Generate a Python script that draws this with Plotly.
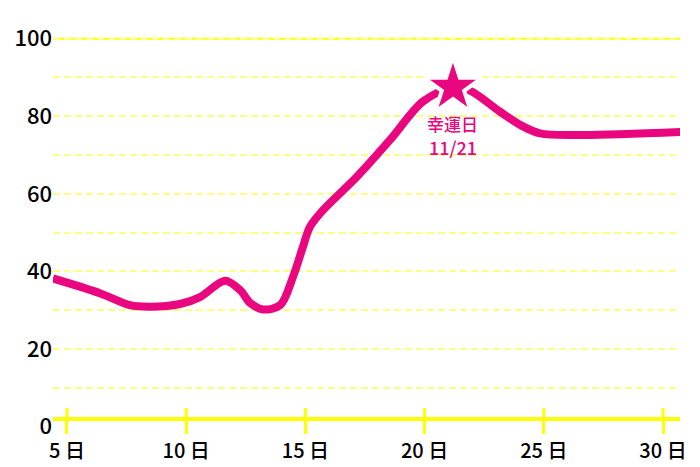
import plotly.graph_objects as go

# ---- data ----
days = [4.41, 6.38, 7.64, 8.48, 9.74, 10.58, 11.63, 12.26, 12.68, 13.22, 13.94,
        14.48, 14.90, 15.19, 15.74, 17.16, 18.55, 19.93, 21.19, 21.90, 23.16,
        24.0, 24.84, 26.64, 30.84]
values = [38.2, 34.4, 31.3, 30.9, 31.6, 33.4, 37.6, 35.2, 31.9, 30.2, 31.3,
          38.6, 46.4, 51.5, 55.8, 64.4, 73.9, 83.8, 87.5, 86.6, 81.2,
          77.8, 75.6, 75.2, 76.0]
lucky_day = [21.19]
lucky_value = [87.5]
lucky_label = "幸運日"
lucky_date = "11/21"
x_tick_vals = [5, 10, 15, 20, 25, 30]
x_tick_text = ["5 日", "10 日", "15 日", "20 日", "25 日", "30 日"]
y_tick_vals = [0, 20, 40, 60, 80, 100]
y_tick_text = ["0", "20", "40", "60", "80", "100"]
minor_grid_vals = [10, 30, 50, 70, 90]
top_line_value = 100

PINK = "#e9067f"
YELLOW = "#ffff00"
LIGHT_YELLOW = "#ffff80"
FONT = "Noto Sans CJK JP, Roboto, sans-serif"

fig = go.Figure()
fig.add_trace(go.Scatter(
    x=days, y=values, mode="lines",
    line=dict(color=PINK, width=8, shape="spline", smoothing=0.9),
    cliponaxis=False, hoverinfo="skip", showlegend=False,
))
fig.add_trace(go.Scatter(
    x=lucky_day, y=lucky_value, mode="markers",
    marker=dict(symbol="star", size=44, color=PINK, line=dict(color="white", width=4)),
    cliponaxis=False, hoverinfo="skip", showlegend=False,
))

fig.add_annotation(
    x=lucky_day[0], y=lucky_value[0], xref="x", yref="y",
    text=lucky_label, showarrow=False, yanchor="middle", yshift=-36,
    font=dict(family=FONT, size=17, color=PINK, weight=500),
)
fig.add_annotation(
    x=lucky_day[0], y=lucky_value[0], xref="x", yref="y",
    text=lucky_date, showarrow=False, yanchor="middle", yshift=-60,
    font=dict(family=FONT, size=18, color=PINK, weight=500),
)

# solid line at the top value
fig.add_shape(type="line", xref="paper", yref="y", x0=0, x1=1,
              y0=top_line_value, y1=top_line_value,
              line=dict(color=YELLOW, width=2), layer="below")

AXIS_POS = 0.0202
# tick marks crossing the x axis (upper part)
for tv in x_tick_vals:
    fig.add_shape(type="line", xref="x", yref="paper", ysizemode="pixel",
                  yanchor=AXIS_POS, x0=tv, x1=tv, y0=0, y1=11,
                  line=dict(color=YELLOW, width=3), layer="above")

fig.update_layout(
    width=692, height=459,
    margin=dict(l=45, r=20, t=22, b=40, autoexpand=False),
    plot_bgcolor="white", paper_bgcolor="white",
    font=dict(family=FONT, color="black"),
    xaxis=dict(
        range=[4.413, 30.713], tickmode="array", tickvals=x_tick_vals, ticktext=x_tick_text,
        showgrid=False, zeroline=False, automargin=False,
        showline=True, linecolor=YELLOW, linewidth=4,
        ticks="outside", ticklen=13, tickwidth=3, tickcolor=YELLOW,
        anchor="free", position=AXIS_POS,
        tickfont=dict(family=FONT, size=20, color="black", weight=500),
    ),
    yaxis=dict(
        range=[-0.1, 102.24], tickmode="array", tickvals=y_tick_vals, ticktext=y_tick_text,
        showgrid=True, gridcolor=LIGHT_YELLOW, gridwidth=2, griddash="7px,4px",
        zeroline=False, showline=False, ticks="", automargin=False,
        tickfont=dict(family=FONT, size=22, color="black", weight=500),
        minor=dict(showgrid=True, tickvals=minor_grid_vals,
                   gridcolor=LIGHT_YELLOW, gridwidth=2, griddash="7px,4px"),
    ),
)

fig.write_html("out.html")
